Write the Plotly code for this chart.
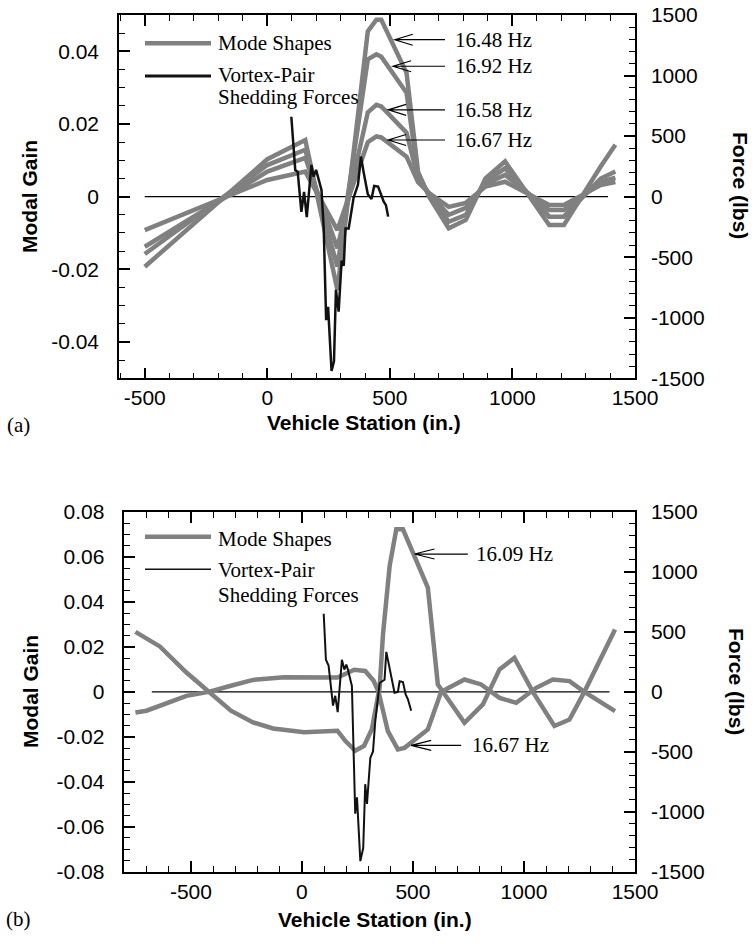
import plotly.graph_objects as go
from plotly.subplots import make_subplots

W, H = 755, 948

# ---------------- data : panel (a) ----------------
station_a = [-500, 0, 155, 286, 410, 445, 465, 568, 615, 660, 740, 810, 890, 970, 1150, 1210, 1360, 1420]
mode_1648 = [-0.0193, 0.0103, 0.0156, -0.0257, 0.0455, 0.0487, 0.0487, 0.0341, 0.0068, 0.0000, -0.0087, -0.0064, 0.0050, 0.0097, -0.0078, -0.0078, 0.0083, 0.0143]
mode_1692 = [-0.0158, 0.0087, 0.0129, -0.0193, 0.0378, 0.0392, 0.0385, 0.0286, 0.0060, 0.0005, -0.0069, -0.0050, 0.0042, 0.0078, -0.0055, -0.0055, 0.0050, 0.0069]
mode_1658 = [-0.0138, 0.0069, 0.0107, -0.0142, 0.0232, 0.0253, 0.0248, 0.0176, 0.0050, 0.0008, -0.0050, -0.0031, 0.0035, 0.0060, -0.0037, -0.0037, 0.0040, 0.0052]
mode_1667a = [-0.0092, 0.0046, 0.0069, -0.0092, 0.0150, 0.0166, 0.0163, 0.0110, 0.0040, 0.0010, -0.0028, -0.0017, 0.0028, 0.0041, -0.0023, -0.0023, 0.0032, 0.0040]

force_station_a = [98, 110, 114, 124, 139, 150, 161, 180, 189, 199, 207, 221, 230, 240, 248, 262, 272, 280, 291, 303, 312, 319, 332, 352, 370, 382, 394, 410, 425, 436, 452, 466, 475, 484, 493]
force_a = [660, 290, 220, 205, -125, 40, -170, 262, 165, 221, 165, 55, -250, -1020, -910, -1440, -1360, -770, -950, -530, -570, -262, -262, -10, 100, 331, 190, 20, -20, 88, 83, 0, -41, -70, -165]

labels_a = ["16.48 Hz", "16.92 Hz", "16.58 Hz", "16.67 Hz"]
label_tip_x_a = [520, 513, 493, 493]
label_tip_y_a = [0.0432, 0.0359, 0.0239, 0.0156]
label_line_end_a = 725
label_text_x_a = 756

# ---------------- data : panel (b) ----------------
station_b1 = [-750, -640, -520, -420, -320, -220, -130, 10, 160, 195, 240, 280, 315, 350, 365, 395, 425, 455, 567, 612, 732, 815, 890, 957, 1040, 1137, 1205, 1272, 1410]
mode_1609 = [0.0267, 0.0202, 0.0086, 0.0, -0.0084, -0.0136, -0.0163, -0.018, -0.0173, -0.0218, -0.0262, -0.024, -0.0166, 0.002, 0.0255, 0.056, 0.0723, 0.0723, 0.0464, 0.0033, -0.0138, -0.0056, 0.010, 0.0151, 0.0, -0.0152, -0.0123, 0.0, 0.0277]
station_b2 = [-750, -700, -520, -420, -320, -220, -80, 10, 160, 235, 285, 323, 345, 387, 432, 462, 567, 627, 732, 807, 890, 965, 1055, 1130, 1205, 1272, 1410]
mode_1667b = [-0.0092, -0.0084, -0.0018, 0.0, 0.0027, 0.0053, 0.0065, 0.0065, 0.0064, 0.0098, 0.0093, 0.0049, 0.0, -0.0175, -0.0256, -0.0249, -0.0167, 0.0, 0.0055, 0.0033, -0.0027, -0.0049, 0.0018, 0.0055, 0.0048, 0.0, -0.0086]

force_station_b = [98, 108, 120, 140, 150, 161, 180, 191, 200, 207, 225, 240, 248, 263, 276, 285, 293, 308, 320, 330, 350, 372, 380, 395, 417, 432, 440, 455, 467, 477, 492]
force_b = [651, 268, 219, -115, -33, -169, 268, 186, 227, 186, 49, -1016, -880, -1412, -1303, -770, -934, -551, -497, -251, 74, 101, 333, 197, -8, 0, 88, 82, -21, -60, -158]

labels_b = ["16.09 Hz", "16.67 Hz"]
label_tip_x_b = [507, 492]
label_tip_y_b = [0.0613, -0.0238]
label_line_end_b = [747, 717]
label_text_x_b = [777, 755]

# ---------------- axis ticks ----------------
x_ticks = [-500, 0, 500, 1000, 1500]
x_ticktext = ["-500", "0", "500", "1000", "1500"]
ya_ticks = [-0.04, -0.02, 0, 0.02, 0.04]
ya_ticktext = ["-0.04", "-0.02", "0", "0.02", "0.04"]
yb_ticks = [-0.08, -0.06, -0.04, -0.02, 0, 0.02, 0.04, 0.06, 0.08]
yb_ticktext = ["-0.08", "-0.06", "-0.04", "-0.02", "0", "0.02", "0.04", "0.06", "0.08"]
f_ticks = [-1500, -1000, -500, 0, 500, 1000, 1500]
f_ticktext = ["-1500", "-1000", "-500", "0", "500", "1000", "1500"]

GRAY = "#808080"
BLACK = "#111111"
SANS = "Liberation Sans, Arial, sans-serif"
SERIF = "Liberation Serif, Times New Roman, serif"

# layout geometry (pixels)
A_X = (119, 635); A_Y = (15, 378.3)
B_X = (124.3, 635); B_Y = (512, 871.7)
XR_A = [-605, 1500]; XR_B = [-800, 1500]
YR_A = [-0.05, 0.05]; YR_B = [-0.08, 0.08]
FR = [-1500, 1500]


def px(x, y):
    return x / W, 1 - y / H


fig = make_subplots(rows=2, cols=1, specs=[[{"secondary_y": True}], [{"secondary_y": True}]])

for ys in [mode_1648, mode_1692, mode_1658, mode_1667a]:
    fig.add_trace(go.Scatter(x=station_a, y=ys, mode="lines", line=dict(color=GRAY, width=4.5),
                             showlegend=False, hoverinfo="skip"), row=1, col=1, secondary_y=False)
fig.add_trace(go.Scatter(x=force_station_a, y=force_a, mode="lines", line=dict(color=BLACK, width=2.5),
                         showlegend=False), row=1, col=1, secondary_y=True)

fig.add_trace(go.Scatter(x=station_b1, y=mode_1609, mode="lines", line=dict(color=GRAY, width=4.5),
                         showlegend=False), row=2, col=1, secondary_y=False)
fig.add_trace(go.Scatter(x=station_b2, y=mode_1667b, mode="lines", line=dict(color=GRAY, width=4.5),
                         showlegend=False), row=2, col=1, secondary_y=False)
fig.add_trace(go.Scatter(x=force_station_b, y=force_b, mode="lines", line=dict(color=BLACK, width=2),
                         showlegend=False), row=2, col=1, secondary_y=True)

tickfont = dict(family=SANS, size=21, color="black")
common = dict(showgrid=False, zeroline=False, showline=True, linecolor="black", linewidth=1.5,
              ticks="inside", ticklen=11, tickwidth=1.5, tickcolor="black", tickfont=tickfont,
              automargin=False)


def xax(dom, rng):
    return dict(common, domain=dom, range=rng, tickmode="array", tickvals=x_ticks, ticktext=x_ticktext,
                mirror="ticks", ticklabelstandoff=0,
                minor=dict(dtick=100, tick0=0, ticks="inside", ticklen=6, tickwidth=1.2, tickcolor="black"))


def yax(dom, rng, vals, text, minor_dt, side="left", standoff=14):
    d = dict(common, domain=dom, range=rng, tickmode="array", tickvals=vals, ticktext=text,
             side=side, ticklabelstandoff=standoff,
             minor=dict(dtick=minor_dt, tick0=0, ticks="inside", ticklen=6, tickwidth=1.2, tickcolor="black"))
    return d


dxa = [A_X[0] / W, A_X[1] / W]; dya = [1 - A_Y[1] / H, 1 - A_Y[0] / H]
dxb = [B_X[0] / W, B_X[1] / W]; dyb = [1 - B_Y[1] / H, 1 - B_Y[0] / H]

fig.update_layout(
    xaxis=xax(dxa, XR_A),
    yaxis=yax(dya, YR_A, ya_ticks, ya_ticktext, 0.005),
    yaxis2=dict(yax(dya, FR, f_ticks, f_ticktext, 100, side="right", standoff=10), overlaying="y", anchor="x"),
    xaxis2=xax(dxb, XR_B),
    yaxis3=yax(dyb, YR_B, yb_ticks, yb_ticktext, 0.005),
    yaxis4=dict(yax(dyb, FR, f_ticks, f_ticktext, 100, side="right", standoff=10), overlaying="y3", anchor="x2"),
)
fig.update_layout(xaxis=dict(anchor="y"), xaxis2=dict(anchor="y3"),
                  yaxis=dict(anchor="x"), yaxis3=dict(anchor="x2"))

shapes = []
annotations = []

# zero lines
shapes.append(dict(type="line", xref="x", yref="y", x0=-500, x1=1390, y0=0, y1=0,
                   line=dict(color="black", width=1.2), layer="below"))
shapes.append(dict(type="line", xref="x2", yref="y3", x0=-676, x1=1385, y0=0, y1=0,
                   line=dict(color="black", width=1.2), layer="below"))


def ann_px(text, x, y, font, xanchor="center", textangle=0):
    xx, yy = px(x, y)
    annotations.append(dict(text=text, x=xx, y=yy, xref="paper", yref="paper", showarrow=False,
                            xanchor=xanchor, yanchor="middle", font=font, textangle=textangle))


titlefont = dict(family=SANS, size=21, color="black")
serif = dict(family=SERIF, size=21, color="black")

ann_px("<b>Modal Gain</b>", 30, 197, titlefont, textangle=-90)
ann_px("<b>Force (lbs)</b>", 741, 185, titlefont, textangle=90)
ann_px("<b>Vehicle Station (in.)</b>", 364, 422, titlefont)
ann_px("(a)", 18, 425, serif)
ann_px("<b>Modal Gain</b>", 30, 692, titlefont, textangle=-90)
ann_px("<b>Force (lbs)</b>", 737, 681, titlefont, textangle=90)
ann_px("<b>Vehicle Station (in.)</b>", 375, 919, titlefont)
ann_px("(b)", 18, 919, serif)

# legends
def leg_line(x0, x1, y, color, width):
    a, b = px(x0, y)
    c, _ = px(x1, y)
    shapes.append(dict(type="line", xref="paper", yref="paper", x0=a, x1=c, y0=b, y1=b,
                       line=dict(color=color, width=width)))


leg_line(145, 211, 43.3, GRAY, 4.5)
ann_px("Mode Shapes", 216, 43, serif, xanchor="left")
leg_line(145, 211, 76, BLACK, 3)
ann_px("Vortex-Pair", 216, 75, serif, xanchor="left")
ann_px("Shedding Forces", 216, 97, serif, xanchor="left")

leg_line(145, 211, 536.7, GRAY, 4.5)
ann_px("Mode Shapes", 216, 539, serif, xanchor="left")
leg_line(145, 211, 569.3, BLACK, 1.5)
ann_px("Vortex-Pair", 216, 570, serif, xanchor="left")
ann_px("Shedding Forces", 216, 595, serif, xanchor="left")


# frequency labels with open arrowheads
def arrow(xref, yref, tip_x, tip_y, end_x, xdom, ydom, xr, yr, back_px=18, half_px=5.5):
    ppx = (xdom[1] - xdom[0]) * W / (xr[1] - xr[0])
    ppy = (ydom[1] - ydom[0]) * H / (yr[1] - yr[0])
    bx = tip_x + back_px / ppx
    dy = half_px / ppy
    path = (f"M {end_x},{tip_y} L {tip_x},{tip_y} "
            f"M {bx},{tip_y + dy} L {tip_x},{tip_y} L {bx},{tip_y - dy}")
    shapes.append(dict(type="path", xref=xref, yref=yref, path=path,
                       line=dict(color="black", width=1.2)))


for lab, tx, ty in zip(labels_a, label_tip_x_a, label_tip_y_a):
    arrow("x", "y", tx, ty, label_line_end_a, dxa, dya, XR_A, YR_A)
    annotations.append(dict(text=lab, x=label_text_x_a, y=ty, xref="x", yref="y", showarrow=False,
                            xanchor="left", yanchor="middle", font=serif))

for lab, tx, ty, le, lt in zip(labels_b, label_tip_x_b, label_tip_y_b, label_line_end_b, label_text_x_b):
    arrow("x2", "y3", tx, ty, le, dxb, dyb, XR_B, YR_B, back_px=20, half_px=5)
    annotations.append(dict(text=lab, x=lt, y=ty, xref="x2", yref="y3", showarrow=False,
                            xanchor="left", yanchor="middle", font=serif))

fig.update_layout(width=W, height=H, autosize=False, margin=dict(l=0, r=0, t=0, b=0, pad=0),
                  paper_bgcolor="white", plot_bgcolor="white", showlegend=False,
                  shapes=shapes, annotations=annotations)

fig.write_html("out.html", config={"responsive": False})
